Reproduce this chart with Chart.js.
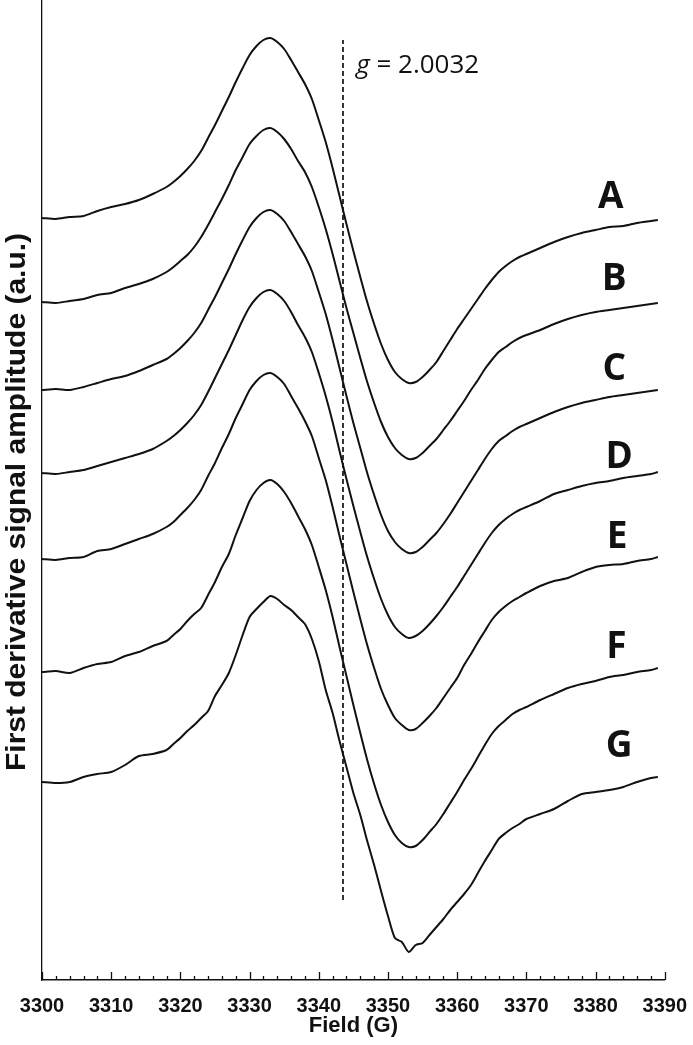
<!DOCTYPE html>
<html>
<head>
<meta charset="utf-8">
<script src="https://cdn.jsdelivr.net/npm/chart.js@4/dist/chart.umd.min.js"></script>
<style>
  html, body { margin: 0; padding: 0; background: #fff; }
  #wrap { width: 693px; height: 1045px; }
</style>
</head>
<body>
<div id="wrap"><canvas id="chart" width="693" height="1045"></canvas></div>
<script>
// field points (G)
const fields = [3300, 3302, 3304, 3306, 3308, 3310, 3312, 3314, 3316, 3318,
    3319, 3320, 3321, 3322, 3323, 3324, 3325, 3326, 3327, 3328, 3329, 3330, 3331, 3332, 3333, 3334, 3335,
    3336, 3337, 3338, 3339, 3340, 3341, 3342, 3343, 3344, 3345, 3346, 3347, 3348, 3349, 3350, 3351, 3352,
    3353, 3354, 3355, 3356, 3357, 3358, 3359, 3360, 3361, 3362, 3363, 3364, 3365, 3366, 3367, 3368, 3369, 3370,
    3372, 3374, 3376, 3378, 3380, 3382, 3384, 3386, 3388, 3389];

// stacked spectra, amplitude in a.u.
const curveA = [762, 761, 763, 764, 769, 773, 776, 780, 786, 793,
    798, 804, 811, 819, 829, 842, 855, 869, 883, 898, 912, 925, 934, 940, 942, 938, 931,
    920, 908, 896, 881, 860, 838, 812, 784, 756, 729, 703, 678, 656, 636, 620, 608, 601,
    597, 598, 603, 610, 618, 629, 640, 651, 661, 671, 681, 691, 700, 708, 714, 719, 723, 726,
    732, 738, 743, 747, 750, 753, 754, 757, 759, 760];
const curveB = [678, 677, 679, 681, 685, 687, 692, 696, 701, 708,
    713, 719, 725, 733, 743, 755, 768, 781, 795, 810, 823, 836, 844, 850, 852, 848, 841,
    831, 819, 808, 793, 773, 751, 726, 699, 672, 647, 622, 598, 577, 558, 543, 532, 525,
    521, 522, 527, 534, 541, 550, 559, 569, 579, 590, 600, 611, 620, 628, 633, 638, 642, 645,
    650, 656, 661, 665, 668, 670, 672, 674, 676, 677];
const curveC = [590, 591, 590, 593, 597, 601, 604, 609, 615, 621,
    626, 632, 639, 647, 657, 670, 683, 697, 711, 726, 740, 753, 762, 768, 770, 766, 759,
    748, 736, 724, 709, 688, 666, 640, 612, 584, 557, 532, 507, 485, 465, 449, 438, 431,
    427, 428, 433, 440, 447, 456, 466, 477, 488, 499, 510, 521, 531, 539, 544, 549, 553, 556,
    562, 568, 573, 577, 580, 583, 585, 587, 589, 590];
const curveD = [507, 506, 508, 510, 514, 518, 522, 526, 531, 539,
    544, 550, 557, 565, 575, 588, 602, 616, 630, 645, 660, 673, 682, 688, 690, 686, 679,
    668, 655, 643, 628, 607, 584, 558, 529, 501, 474, 448, 423, 401, 381, 365, 353, 346,
    342, 344, 349, 356, 364, 373, 383, 393, 404, 415, 426, 437, 447, 455, 461, 466, 470, 473,
    479, 486, 490, 494, 497, 499, 502, 504, 506, 508];
const curveE = [421, 420, 422, 423, 429, 431, 436, 441, 446, 453,
    458, 465, 472, 480, 490, 504, 517, 532, 546, 562, 576, 590, 599, 605, 607, 603, 596,
    584, 572, 559, 544, 522, 500, 473, 444, 416, 388, 361, 335, 312, 291, 275, 262, 255,
    250, 251, 257, 264, 272, 282, 292, 302, 315, 326, 338, 349, 360, 368, 374, 379, 383, 387,
    394, 399, 402, 408, 413, 415, 416, 419, 421, 423];
const curveF = [308, 309, 307, 312, 316, 318, 324, 328, 334, 339,
    345, 351, 359, 366, 372, 385, 398, 413, 426, 445, 462, 479, 490, 497, 500, 496, 488,
    477, 464, 451, 435, 413, 390, 363, 333, 304, 275, 247, 220, 196, 175, 158, 145, 137,
    133, 134, 140, 148, 156, 166, 177, 188, 200, 211, 223, 235, 246, 254, 260, 266, 270, 273,
    280, 286, 292, 296, 299, 303, 305, 308, 310, 312];
const curveG = [198, 197, 198, 203, 206, 208, 215, 224, 226, 230,
    236, 242, 249, 255, 262, 269, 284, 295, 307, 325, 345, 363, 371, 378, 384, 381, 375,
    370, 363, 356, 341, 319, 290, 267, 239, 213, 187, 165, 139, 115, 89, 64, 42, 38,
    28, 35, 37, 45, 53, 61, 70, 78, 86, 95, 107, 119, 130, 141, 147, 152, 156, 161,
    166, 171, 179, 186, 188, 190, 193, 198, 202, 203];

const curveNames = ['A', 'B', 'C', 'D', 'E', 'F', 'G'];
const curves = [curveA, curveB, curveC, curveD, curveE, curveF, curveG];
const labelFields = [3382.2, 3382.7, 3382.7, 3383.4, 3383.1, 3383.0, 3383.4];
const labelBase = [772, 690, 600, 512, 432, 322, 223];

const gField = 3343.5;
const gSpan = [80, 940];
const gText = '2.0032';

const fieldTicks = [3300, 3310, 3320, 3330, 3340, 3350, 3360, 3370, 3380, 3390];

const ink = '#111';

const datasets = curves.map((c, i) => ({
    label: curveNames[i],
    data: c.map((v, k) => ({ x: fields[k], y: v })),
    borderColor: ink,
    borderWidth: 2,
    pointRadius: 0,
    tension: 0.25
}));
datasets.push({
    label: 'g',
    data: gSpan.map(v => ({ x: gField, y: v })),
    borderColor: ink,
    borderWidth: 1.7,
    borderDash: [5, 3],
    pointRadius: 0
});

// inward minor/major ticks, curve letters, g label, y title
const decorations = {
    id: 'decorations',
    afterDraw(chart) {
        const ctx = chart.ctx;
        const x = chart.scales.x, y = chart.scales.y;
        const bottom = chart.chartArea.bottom;
        ctx.save();
        ctx.strokeStyle = ink;
        ctx.lineWidth = 1.3;
        for (let f = fieldTicks[0]; f <= fieldTicks[fieldTicks.length - 1]; f += 2) {
            const px = Math.round(x.getPixelForValue(f)) + 0.5;
            const len = fieldTicks.includes(f) ? 8 : 4;
            ctx.beginPath();
            ctx.moveTo(px, bottom);
            ctx.lineTo(px, bottom - len);
            ctx.stroke();
        }

        ctx.fillStyle = ink;
        ctx.font = 'bold 37px "Open Sans"';
        ctx.textAlign = 'center';
        ctx.textBaseline = 'alphabetic';
        curveNames.forEach((n, i) => {
            ctx.fillText(n, x.getPixelForValue(labelFields[i]), y.getPixelForValue(labelBase[i]));
        });

        // g = 2.0032
        ctx.textAlign = 'left';
        let gx = x.getPixelForValue(3345.4);
        const gy = y.getPixelForValue(907);
        ctx.font = 'italic 26px "Open Sans"';
        ctx.fillText('g', gx, gy);
        gx += ctx.measureText('g').width;
        ctx.font = '26px "Open Sans"';
        ctx.fillText(' = ' + gText, gx, gy);

        // y title, condensed
        const title = 'First derivative signal amplitude (a.u.)';
        ctx.font = 'bold 28px "Liberation Sans"';
        const w = ctx.measureText(title).width;
        ctx.translate(25, 502);
        ctx.rotate(-Math.PI / 2);
        ctx.scale(538 / w, 1);
        ctx.textAlign = 'center';
        ctx.fillText(title, 0, 0);
        ctx.restore();
    }
};

new Chart(document.getElementById('chart'), {
    type: 'line',
    data: { datasets: datasets },
    options: {
        responsive: false,
        animation: false,
        devicePixelRatio: 1,
        layout: { padding: { left: 42, right: 24, top: 0, bottom: 0 } },
        plugins: {
            legend: { display: false },
            tooltip: { enabled: false }
        },
        scales: {
            x: {
                type: 'linear',
                min: 3300,
                max: 3390,
                grid: { display: false },
                border: { display: true, color: ink, width: 1.5 },
                afterBuildTicks: s => { s.ticks = fieldTicks.map(v => ({ value: v })); },
                afterFit: s => { s.height = 65; },
                ticks: {
                    color: ink,
                    padding: 6,
                    maxRotation: 0,
                    autoSkip: false,
                    font: { family: '"Liberation Sans"', size: 20, weight: 'bold' },
                    callback: v => String(v)
                },
                title: {
                    display: true,
                    text: 'Field (G)',
                    color: ink,
                    padding: { top: 0, bottom: 6 },
                    font: { family: '"Liberation Sans"', size: 22, weight: 'bold' }
                }
            },
            y: {
                min: 0,
                max: 980,
                grid: { display: false },
                border: { display: true, color: ink, width: 1.3 },
                ticks: { display: false },
                afterFit: s => { s.width = 0; }
            }
        }
    },
    plugins: [decorations]
});
</script>
</body>
</html>
